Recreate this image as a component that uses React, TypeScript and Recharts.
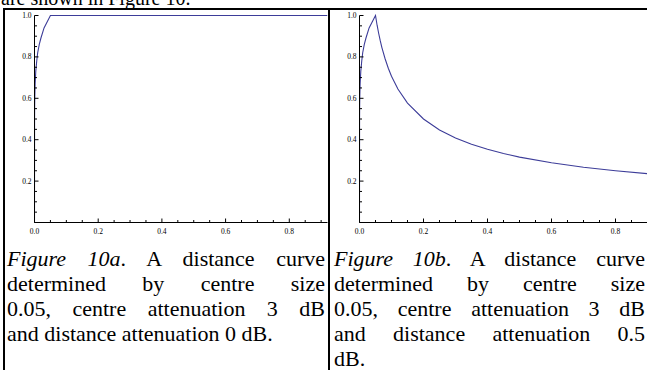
import React from "react";
import { LineChart, Line, XAxis, YAxis } from "recharts";

// Figure 10a: distance curve, distance attenuation 0 dB
const distanceA = [0, 0.0002, 0.0005, 0.001, 0.002, 0.004, 0.007, 0.01, 0.015, 0.02, 0.03, 0.04, 0.05, 0.92];
const gainA = [0, 0.5, 0.56, 0.61, 0.67, 0.73, 0.78, 0.82, 0.86, 0.89, 0.94, 0.97, 1.0, 1.0];

// Figure 10b: distance curve, distance attenuation 0.5 dB
const distanceB = [
  0, 0.0002, 0.0005, 0.001, 0.002, 0.004, 0.007, 0.01, 0.015, 0.02, 0.03, 0.04, 0.05,
  0.055, 0.06, 0.065, 0.07, 0.08, 0.09, 0.1, 0.12, 0.15, 0.2, 0.25, 0.3, 0.35, 0.4,
  0.45, 0.5, 0.6, 0.7, 0.8, 0.9,
];
const gainB = [
  0, 0.5, 0.56, 0.61, 0.67, 0.73, 0.78, 0.82, 0.86, 0.89, 0.94, 0.97, 1.0,
  0.953, 0.913, 0.877, 0.845, 0.791, 0.745, 0.707, 0.645, 0.577, 0.5, 0.447, 0.408, 0.378, 0.354,
  0.333, 0.316, 0.289, 0.267, 0.25, 0.236,
];

const xTicksA = [0, 0.05, 0.1, 0.15, 0.2, 0.25, 0.3, 0.35, 0.4, 0.45, 0.5, 0.55, 0.6, 0.65, 0.7, 0.75, 0.8, 0.85, 0.9];
const xTicksB = [0, 0.05, 0.1, 0.15, 0.2, 0.25, 0.3, 0.35, 0.4, 0.45, 0.5, 0.55, 0.6, 0.65, 0.7, 0.75, 0.8, 0.85, 0.9];
const yTicks = [0, 0.05, 0.1, 0.15, 0.2, 0.25, 0.3, 0.35, 0.4, 0.45, 0.5, 0.55, 0.6, 0.65, 0.7, 0.75, 0.8, 0.85, 0.9, 0.95, 1.0];

const captionA = [
  ["Figure 10a", ". A distance curve"],
  ["", "determined by centre size"],
  ["", "0.05, centre attenuation 3 dB"],
  ["", "and distance attenuation 0 dB."],
];
const captionB = [
  ["Figure 10b", ". A distance curve"],
  ["", "determined by centre size"],
  ["", "0.05, centre attenuation 3 dB"],
  ["", "and distance attenuation 0.5"],
  ["", "dB."],
];

const LINE = "#3d3d99";
const SERIF = "'Liberation Serif', 'Times New Roman', serif";

const isMajor = (v: number) => Math.round(v * 20) % 4 === 0;

function XTick(props: any) {
  const { x, y, payload } = props;
  const major = isMajor(payload.value);
  return (
    <g>
      <line x1={x} x2={x} y1={y} y2={y - (major ? 4 : 2.5)} stroke="#000" strokeWidth={1} />
      {major && (
        <text x={x} y={y + 11} textAnchor="middle" fontSize={7.5} fontFamily={SERIF} fill="#000">
          {payload.value.toFixed(1)}
        </text>
      )}
    </g>
  );
}

function YTick(props: any) {
  const { x, y, payload } = props;
  const major = isMajor(payload.value);
  return (
    <g>
      <line x1={x} x2={x + (major ? 4 : 2.5)} y1={y} y2={y} stroke="#000" strokeWidth={1} />
      {major && payload.value > 0 && (
        <text x={x - 3} y={y + 2.5} textAnchor="end" fontSize={7.5} fontFamily={SERIF} fill="#000">
          {payload.value.toFixed(1)}
        </text>
      )}
    </g>
  );
}

function Curve({ xs, ys, xMax, xTicks, width, left, unit }: any) {
  const data = xs.map((x: number, i: number) => ({ x, y: ys[i] }));
  const plotW = Math.round(xMax * unit);
  return (
    <LineChart
      width={width}
      height={245}
      data={data}
      margin={{ top: 15.5, left: left - 1, right: width - left - plotW, bottom: 21.5 }}
    >
      <XAxis
        type="number"
        dataKey="x"
        domain={[0, xMax]}
        ticks={xTicks}
        interval={0}
        height={1}
        tickSize={0}
        tickMargin={0}
        axisLine={{ stroke: "#000", strokeWidth: 1 }}
        tickLine={false}
        tick={<XTick />}
        allowDataOverflow
      />
      <YAxis
        type="number"
        domain={[0, 1]}
        ticks={yTicks}
        interval={0}
        width={1}
        tickSize={0}
        tickMargin={0}
        axisLine={{ stroke: "#000", strokeWidth: 1 }}
        tickLine={false}
        tick={<YTick />}
      />
      <Line type="linear" dataKey="y" stroke={LINE} strokeWidth={1.1} dot={false} isAnimationActive={false} />
    </LineChart>
  );
}

function Caption({ lines, left, width }: any) {
  return (
    <div style={{ position: "absolute", left, top: 246, width, fontFamily: SERIF, fontSize: 22, color: "#000" }}>
      {lines.map((ln: string[], i: number) => (
        <div
          key={i}
          style={{
            height: 25,
            lineHeight: "25px",
            whiteSpace: "nowrap",
            textAlign: "justify",
            textAlignLast: i === lines.length - 1 ? "left" : "justify",
          }}
        >
          {ln[0] && <i>{ln[0]}</i>}
          {ln[1]}
        </div>
      ))}
    </div>
  );
}

export default function App() {
  return (
    <div style={{ position: "absolute", left: 0, top: 0, width: 647, height: 370, overflow: "hidden", background: "#fff" }}>
      <div style={{ position: "absolute", left: 1, top: -12, fontFamily: SERIF, fontSize: 20, lineHeight: "20px", whiteSpace: "nowrap" }}>
        are shown in Figure 10.
      </div>
      <div style={{ position: "absolute", left: 0, top: 0 }}>
        <Curve xs={distanceA} ys={gainA} xMax={0.92} xTicks={xTicksA} width={330} left={34.5} unit={318} />
      </div>
      <div style={{ position: "absolute", left: 330, top: 0 }}>
        <Curve xs={distanceB} ys={gainB} xMax={0.9} xTicks={xTicksB} width={317} left={29.5} unit={320} />
      </div>
      <div style={{ position: "absolute", left: 3, top: 8, width: 644, height: 2, background: "#000" }} />
      <div style={{ position: "absolute", left: 3, top: 8, width: 2, height: 362, background: "#000" }} />
      <div style={{ position: "absolute", left: 328, top: 8, width: 2, height: 362, background: "#000" }} />
      <Caption lines={captionA} left={7} width={318} />
      <Caption lines={captionB} left={334} width={311} />
    </div>
  );
}
